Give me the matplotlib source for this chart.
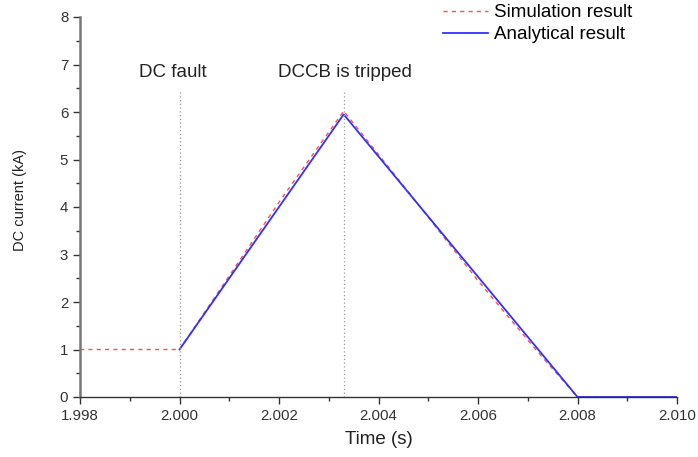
import matplotlib
matplotlib.use("Agg")
import matplotlib.pyplot as plt
from matplotlib.ticker import MultipleLocator, FormatStrFormatter

plt.rcParams['font.family'] = ['Liberation Sans', 'DejaVu Sans']

sim_t = [1.998, 2.000, 2.0010, 2.0020, 2.0033, 2.0045, 2.0060, 2.0072, 2.0080, 2.0100]
sim_i = [1.0, 1.0, 2.55, 4.10, 6.02, 4.45, 2.45, 0.95, 0.0, 0.0]
ana_t = [2.000, 2.0033, 2.0080, 2.0100]
ana_i = [1.0, 5.95, 0.0, 0.0]
events_t = [2.000, 2.0033]
events_label = ["DC fault", "DCCB is tripped"]

fig = plt.figure(figsize=(6.98, 4.57), dpi=100)
ax = fig.add_axes([80/698, 1-397/457, (677-80)/698, (397-17)/457])

ax.plot(sim_t, sim_i, color='#ff5050', linestyle=(0, (3, 3)), linewidth=1.0, label='Simulation result')
ax.plot(ana_t, ana_i, color='#3030ff', linewidth=1.3, label='Analytical result')

for t in events_t:
    ax.plot([t, t], [0, 6.45], color='#999999', linestyle=(0, (1, 2)), linewidth=0.9)
ax.text(1.99987, 6.84, events_label[0], ha='center', va='center', fontsize=13.5, color='#222222')
ax.text(2.00333, 6.84, events_label[1], ha='center', va='center', fontsize=13.5, color='#222222')

ax.set_xlim(1.998, 2.010)
ax.set_ylim(0, 8)
ax.xaxis.set_major_locator(MultipleLocator(0.002))
ax.xaxis.set_minor_locator(MultipleLocator(0.001))
ax.yaxis.set_major_locator(MultipleLocator(1))
ax.yaxis.set_minor_locator(MultipleLocator(0.5))
ax.xaxis.set_major_formatter(FormatStrFormatter('%.3f'))
for s in ['top', 'right']:
    ax.spines[s].set_visible(False)
ax.spines['left'].set_linewidth(1.8)
ax.spines['left'].set_color('#777777')
ax.spines['bottom'].set_linewidth(1.0)
ax.spines['bottom'].set_color('#333333')
ax.tick_params(which='major', direction='out', length=5, width=1, labelsize=10.8, colors='#333333')
ax.tick_params(which='minor', direction='out', length=3, width=1, colors='#333333')

fig.text(379/698, 1-440/457, 'Time (s)', ha='center', va='center', fontsize=13.5, color='#222222')
fig.text(20/698, 1-200/457, 'DC current (kA)', ha='center', va='center', rotation=90,
         fontsize=10.5, color='#222222')

fig.legend(*ax.get_legend_handles_labels(), loc='upper left',
           bbox_to_anchor=(443/698, 1-4/457), bbox_transform=fig.transFigure,
           frameon=False, fontsize=13.5, handlelength=2.4, handletextpad=0.32,
           labelspacing=0.27, borderpad=0, borderaxespad=0)

fig.savefig('out.png', dpi=100)
